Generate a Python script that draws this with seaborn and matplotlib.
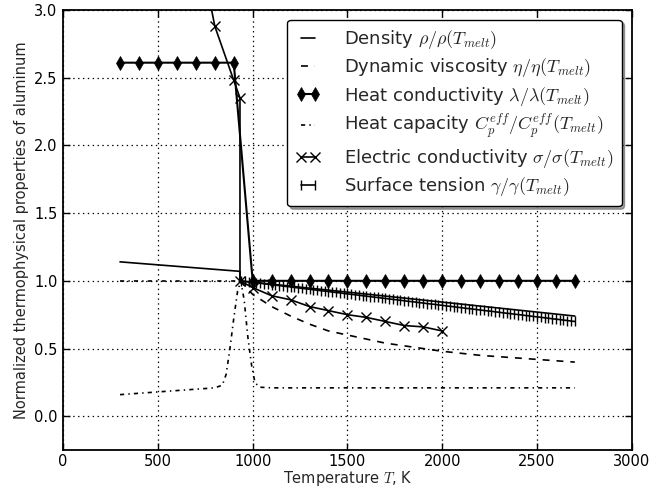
import matplotlib
matplotlib.use("Agg")
import matplotlib.pyplot as plt
import seaborn as sns
import numpy as np

# ---------------- data ----------------
T_MELT = 933

dens_T = [300, 933, 933, 2700]
dens_v = [1.14, 1.07, 1.00, 0.74]

visc_T = [933, 1000, 1100, 1200, 1300, 1400, 1500, 1600, 1700, 1800, 1900, 2000, 2200, 2400, 2700]
visc_v = [1.00, 0.90, 0.81, 0.74, 0.68, 0.63, 0.60, 0.57, 0.54, 0.52, 0.50, 0.48, 0.45, 0.43, 0.40]

hcond_T = [300, 400, 500, 600, 700, 800, 900, 1000, 1100, 1200, 1300, 1400, 1500, 1600, 1700,
           1800, 1900, 2000, 2100, 2200, 2300, 2400, 2500, 2600, 2700]
hcond_v = [2.61, 2.61, 2.61, 2.61, 2.61, 2.61, 2.61, 1.0, 1.0, 1.0, 1.0, 1.0, 1.0, 1.0, 1.0,
           1.0, 1.0, 1.0, 1.0, 1.0, 1.0, 1.0, 1.0, 1.0, 1.0]

cp_T = [300, 400, 500, 600, 700, 800, 840, 860, 880, 900, 920, 937, 955, 975, 995, 1012, 1035,
        1100, 1500, 2000, 2700]
cp_v = [0.16, 0.17, 0.18, 0.19, 0.20, 0.21, 0.23, 0.31, 0.50, 0.72, 0.92, 1.00, 0.86, 0.58, 0.37,
        0.25, 0.215, 0.21, 0.21, 0.21, 0.21]

econd_T = [700, 800, 900, 933, 933, 1000, 1100, 1200, 1300, 1400, 1500, 1600, 1700, 1800, 1900, 2000]
econd_v = [3.60, 2.88, 2.48, 2.35, 1.00, 0.95, 0.89, 0.86, 0.81, 0.78, 0.75, 0.73, 0.70, 0.67, 0.66, 0.63]

surf_T = list(range(940, 2720, 20))
surf_v = [0.999, 0.995, 0.992, 0.989, 0.985, 0.982, 0.978, 0.975, 0.972, 0.968,
          0.965, 0.961, 0.958, 0.955, 0.951, 0.948, 0.944, 0.941, 0.938, 0.934,
          0.931, 0.927, 0.924, 0.921, 0.917, 0.914, 0.911, 0.907, 0.904, 0.900,
          0.897, 0.894, 0.890, 0.887, 0.883, 0.880, 0.877, 0.873, 0.870, 0.866,
          0.863, 0.860, 0.856, 0.853, 0.849, 0.846, 0.843, 0.839, 0.836, 0.832,
          0.829, 0.826, 0.822, 0.819, 0.815, 0.812, 0.809, 0.805, 0.802, 0.798,
          0.795, 0.792, 0.788, 0.785, 0.781, 0.778, 0.775, 0.771, 0.768, 0.764,
          0.761, 0.758, 0.754, 0.751, 0.748, 0.744, 0.741, 0.737, 0.734, 0.731,
          0.727, 0.724, 0.720, 0.717, 0.714, 0.710, 0.707, 0.703, 0.700]

ref_T = [300, T_MELT]
ref_v = [1.0, 1.0]

labels = [r'Density $\rho/\rho(T_{melt})$',
          r'Dynamic viscosity $\eta/\eta(T_{melt})$',
          r'Heat conductivity $\lambda/\lambda(T_{melt})$',
          r'Heat capacity $C_p^{eff}/C_p^{eff}(T_{melt})$',
          r'Electric conductivity $\sigma/\sigma(T_{melt})$',
          r'Surface tension $\gamma/\gamma(T_{melt})$']

xticks = [0, 500, 1000, 1500, 2000, 2500, 3000]
yticks = [0.0, 0.5, 1.0, 1.5, 2.0, 2.5, 3.0]

# ---------------- style ----------------
sns.set_style("ticks")
plt.rcParams['font.family'] = ['DejaVu Sans']
plt.rcParams['mathtext.fontset'] = 'cm'
plt.rcParams['lines.scale_dashes'] = False
plt.rcParams['xtick.direction'] = 'in'
plt.rcParams['ytick.direction'] = 'in'

fig, ax = plt.subplots(figsize=(6.72, 4.92), dpi=100)
fig.subplots_adjust(left=0.094, right=0.940, top=0.980, bottom=0.085)

common = dict(ax=ax, color='k', estimator=None, sort=False, legend=False)
handles = []

sns.lineplot(x=dens_T, y=dens_v, linewidth=1.2, linestyle='-', **common)
handles.append(ax.lines[-1])
sns.lineplot(x=visc_T, y=visc_v, linewidth=1.2, linestyle=(0, (5, 5)), **common)
handles.append(ax.lines[-1])
sns.lineplot(x=hcond_T, y=hcond_v, linewidth=1.5, linestyle='-', marker='d', markersize=7,
             markeredgecolor='k', markerfacecolor='k', markeredgewidth=0.5, **common)
handles.append(ax.lines[-1])
sns.lineplot(x=cp_T, y=cp_v, linewidth=1.2, linestyle=(0, (3, 3, 1, 3)), **common)
handles.append(ax.lines[-1])
sns.lineplot(x=econd_T, y=econd_v, linewidth=1.2, linestyle='-', marker='x', markersize=7,
             markeredgecolor='k', markeredgewidth=1, **common)
handles.append(ax.lines[-1])
sns.lineplot(x=surf_T, y=surf_v, linewidth=1.2, linestyle='-', marker='|', markersize=7,
             markeredgecolor='k', markeredgewidth=1, **common)
handles.append(ax.lines[-1])
sns.lineplot(x=ref_T, y=ref_v, linewidth=1.2, linestyle=(0, (3, 3, 1, 3)), **common)

ax.set_xlim(0, 3000)
ax.set_ylim(-0.25, 3.0)
ax.set_xticks(xticks)
ax.set_yticks(yticks)
ax.set_yticklabels([f"{v:.1f}" for v in yticks])
ax.tick_params(axis='both', which='both', direction='in', top=True, right=True,
               length=5, width=1, labelsize=10.5, colors='k', pad=4)
ax.tick_params(axis='x', pad=3)
for s in ax.spines.values():
    s.set_linewidth(1.3)
    s.set_color('k')
ax.grid(True, color='k', linestyle=(0, (1, 2.5)), linewidth=0.9)
ax.set_axisbelow(True)

ax.set_xlabel(r'Temperature $T$, K', fontsize=10.5, labelpad=0)
ax.set_ylabel('Normalized thermophysical properties of aluminum', fontsize=10.5, labelpad=4)

leg = ax.legend(handles, labels, loc='upper right', fontsize=13, numpoints=2,
                fancybox=True, shadow=True, framealpha=1, edgecolor='k',
                handlelength=1.4, handletextpad=1.3, borderpad=0.45,
                borderaxespad=0.55, labelspacing=0.3)
leg.get_frame().set_linewidth(1.0)

fig.savefig("out.png", dpi=100, facecolor='white')
